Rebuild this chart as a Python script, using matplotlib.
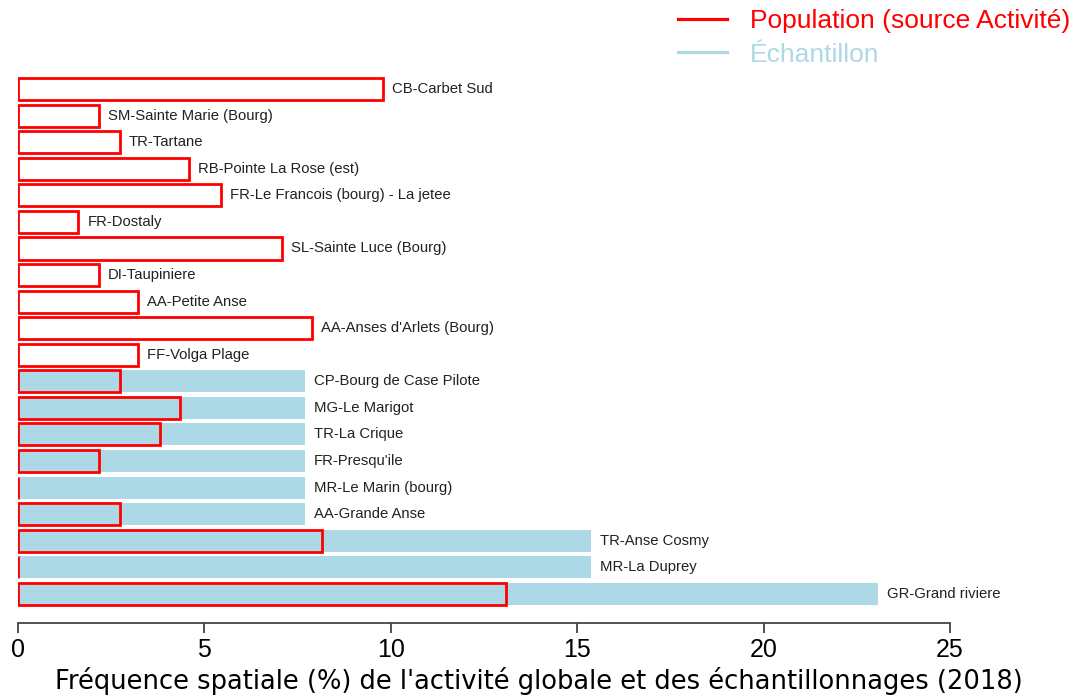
import matplotlib.pyplot as plt
from matplotlib.lines import Line2D

sites = ["CB-Carbet Sud", "SM-Sainte Marie (Bourg)", "TR-Tartane", "RB-Pointe La Rose (est)",
         "FR-Le Francois (bourg) - La jetee", "FR-Dostaly", "SL-Sainte Luce (Bourg)",
         "DI-Taupiniere", "AA-Petite Anse", "AA-Anses d'Arlets (Bourg)", "FF-Volga Plage",
         "CP-Bourg de Case Pilote", "MG-Le Marigot", "TR-La Crique", "FR-Presqu'ile",
         "MR-Le Marin (bourg)", "AA-Grande Anse", "TR-Anse Cosmy", "MR-La Duprey",
         "GR-Grand riviere"]
population = [9.8, 2.17, 2.73, 4.6, 5.45, 1.62, 7.08, 2.17, 3.23, 7.88, 3.23,
              2.73, 4.35, 3.8, 2.17, 0.0, 2.73, 8.16, 0.0, 13.1]
echantillon = [0, 0, 0, 0, 0, 0, 0, 0, 0, 0, 0,
               7.69, 7.69, 7.69, 7.69, 7.69, 7.69, 15.38, 15.38, 23.08]

plt.rcParams["font.family"] = ["Liberation Sans", "DejaVu Sans"]

fig = plt.figure(figsize=(10.77, 6.98), dpi=100)
ax = fig.add_axes([18 / 1077, 1 - 623 / 698, 932 / 1077, 553 / 698])

pos = list(range(len(sites)))
ax.barh(pos, echantillon, height=0.83, color="lightblue", edgecolor="none")
ax.barh(pos, population, height=0.83, facecolor="none", edgecolor="red", linewidth=2)

for i in pos:
    x = max(population[i], echantillon[i]) + 0.24
    ax.text(x, i, sites[i], va="center", ha="left", fontsize=10.7, color="#222222", clip_on=False)

ax.set_xlim(0, 25)
ax.set_ylim(20.1, -0.72)
for s in ["top", "right", "left"]:
    ax.spines[s].set_visible(False)
ax.spines["bottom"].set_color("#444444")
ax.spines["bottom"].set_linewidth(1.3)
ax.set_yticks([])
ax.set_xticks([0, 5, 10, 15, 20, 25])
ax.tick_params(axis="x", length=7, width=1.3, color="#444444", labelsize=18, pad=4)
ax.set_xlabel("Fréquence spatiale (%) de l'activité globale et des échantillonnages (2018)",
              fontsize=18.5, family="DejaVu Sans")
# centre the title on the figure, like the original
ax.xaxis.set_label_coords((538.5 - 18) / 932, -44 / 553)

handles = [Line2D([], [], color="red", lw=2.3), Line2D([], [], color="lightblue", lw=2.3)]
fig.legend(handles, ["Population (source Activité)", "Échantillon"],
           loc="upper right", bbox_to_anchor=(1070 / 1077, 1 - 9 / 698), frameon=False,
           fontsize=19, labelcolor="linecolor", handlelength=1.86,
           handletextpad=0.87, labelspacing=0.36, borderpad=0, borderaxespad=0)

fig.savefig("out.png", dpi=100)
